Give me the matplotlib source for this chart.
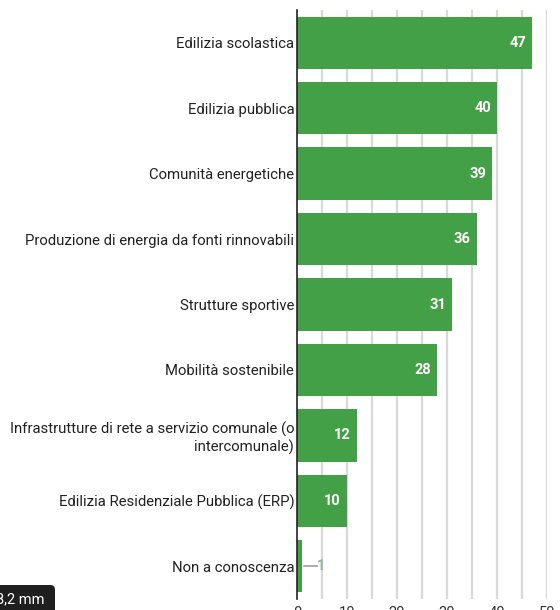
import matplotlib.pyplot as plt
from matplotlib.patches import FancyBboxPatch

plt.rcParams['font.family'] = ['Roboto', 'DejaVu Sans']

categories = [
    "Edilizia scolastica",
    "Edilizia pubblica",
    "Comunità energetiche",
    "Produzione di energia da fonti rinnovabili",
    "Strutture sportive",
    "Mobilità sostenibile",
    "Infrastrutture di rete a servizio comunale (o\nintercomunale)",
    "Edilizia Residenziale Pubblica (ERP)",
    "Non a conoscenza",
]
values = [47, 40, 39, 36, 31, 28, 12, 10, 1]
x_ticks = [0, 10, 20, 30, 40, 50]

bar_color = "#43a047"

fig = plt.figure(figsize=(5.6, 6.1), dpi=100)
ax = fig.add_axes([297 / 560, 1 - 599 / 610, 250 / 560, 589 / 610])

pos = list(range(len(categories)))
ax.barh(pos, values, height=0.8, color=bar_color, zorder=3)

ax.set_xlim(0, 50)
ax.set_ylim(len(categories) - 0.5, -0.5)

# light vertical grid every 5 units
for gx in range(5, 51, 5):
    ax.axvline(gx, color="#d9d9d9", lw=1.6, zorder=1)

ax.set_yticks(pos)
ax.set_yticklabels(categories, fontsize=10.7, color="#222222", ha="right",
                   linespacing=1.25)
ax.tick_params(axis="y", length=0, pad=2)
ax.set_xticks(x_ticks)
ax.set_xticklabels([str(t) for t in x_ticks], fontsize=10.5, color="#333333")
ax.tick_params(axis="x", length=0, pad=5)

for side in ["top", "right", "bottom"]:
    ax.spines[side].set_visible(False)
ax.spines["left"].set_color("#222222")
ax.spines["left"].set_linewidth(1.2)
ax.spines["left"].set_zorder(4)

for p, v in zip(pos, values):
    if v >= 5:
        ax.text(v - 1.2, p, str(v), ha="right", va="center", color="white",
                fontsize=10.5, fontweight="bold", zorder=5)
    else:
        ax.plot([v + 0.3, v + 3.0], [p, p], color="#9e9e9e", lw=1.2, zorder=5)
        ax.text(v + 3.0, p, str(v), ha="left", va="center", color="#8fb89a",
                fontsize=10.5, fontweight="bold", zorder=5)

# dark measurement badge in the lower-left corner
badge = FancyBboxPatch((-10 / 560, -6 / 610), 65 / 560, 31 / 610,
                       transform=fig.transFigure,
                       boxstyle="round,pad=0,rounding_size=0.008",
                       facecolor="#1f1f1f", edgecolor="none", zorder=10)
fig.patches.append(badge)
fig.text(-4 / 560, 1 - 599 / 610, "8,2 mm", color="white", fontsize=10.5,
         ha="left", va="center", zorder=11)

fig.savefig("out.png", dpi=100)
